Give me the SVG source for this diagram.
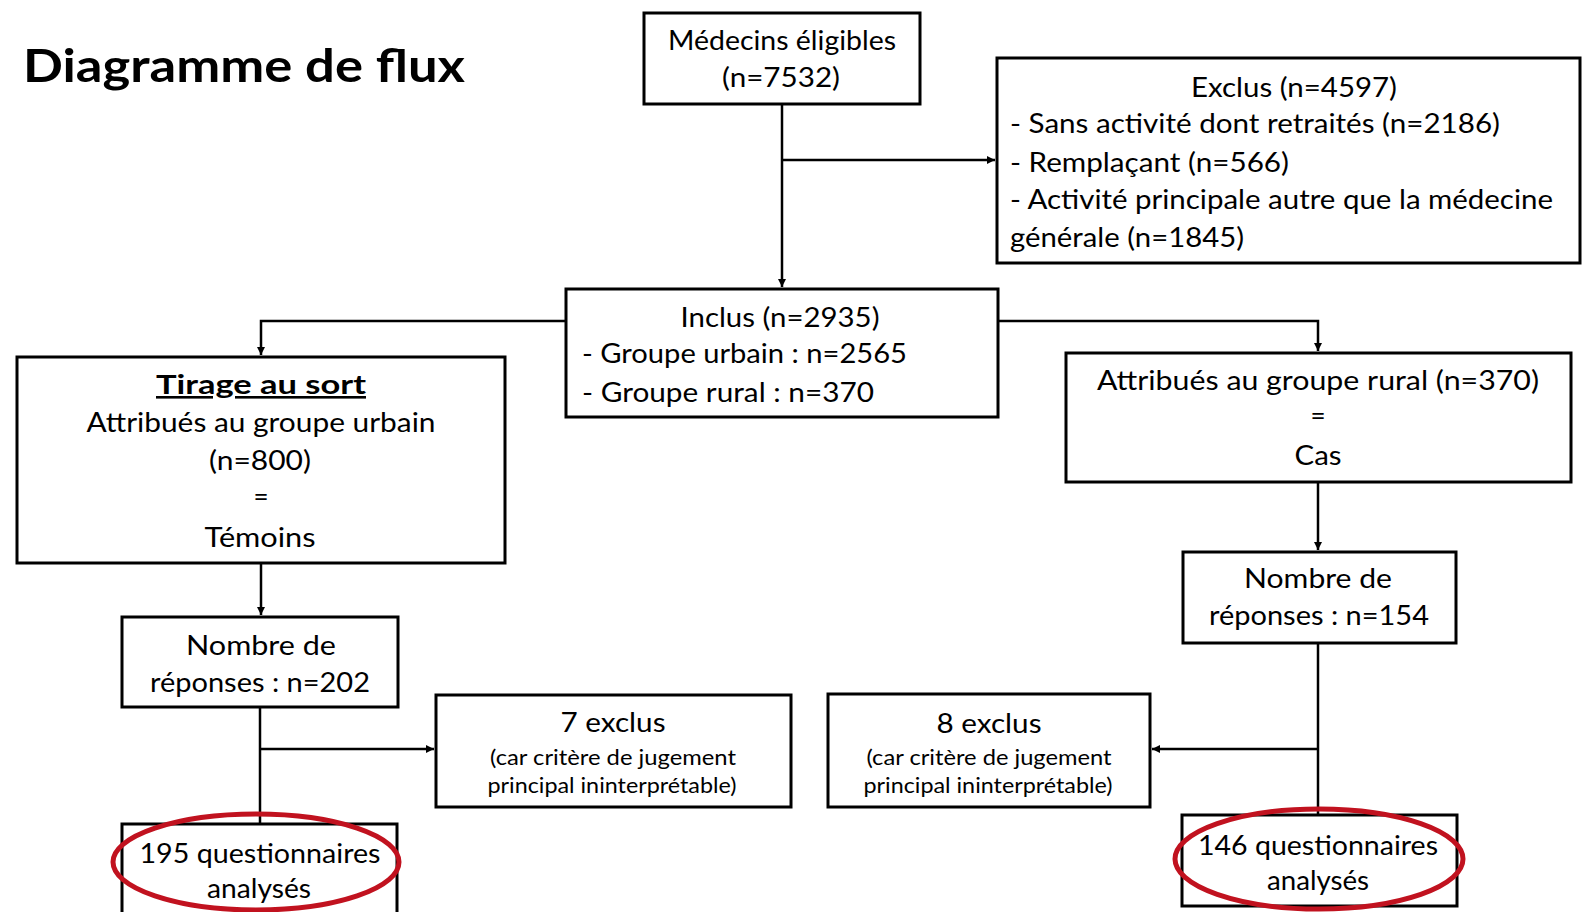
<svg xmlns="http://www.w3.org/2000/svg" width="1582" height="912" viewBox="0 0 1582 912">
<style>
.box{fill:#fff;stroke:#000;stroke-width:3}
.c{fill:none;stroke:#000;stroke-width:2.5}
.t{font-family:Lato,"Open Sans","Liberation Sans",sans-serif;font-size:26px;fill:#000}
.s{font-family:Lato,"Open Sans","Liberation Sans",sans-serif;font-size:21px;fill:#000}
.m{text-anchor:middle}
.ring{fill:none;stroke:#c1121f;stroke-width:5}
</style>
<defs>
<marker id="ah" viewBox="0 0 10 10" refX="10" refY="5" markerWidth="8" markerHeight="8" markerUnits="userSpaceOnUse" orient="auto">
<path d="M0,0 L10,5 L0,10 z" fill="#000"/>
</marker>
</defs>
<rect width="1582" height="912" fill="#fff"/>
<text x="23" y="82" font-family="Lato,'Liberation Sans',sans-serif" font-weight="bold" font-size="46" textLength="442" lengthAdjust="spacingAndGlyphs">Diagramme de flux</text>

<g id="connectors">
<path class="c" d="M782,104 V287" marker-end="url(#ah)"/>
<path class="c" d="M782,160 H995" marker-end="url(#ah)"/>
<path class="c" d="M566,321 H261 V355" marker-end="url(#ah)"/>
<path class="c" d="M998,321 H1318 V351" marker-end="url(#ah)"/>
<path class="c" d="M261,563 V615" marker-end="url(#ah)"/>
<path class="c" d="M1318,482 V550" marker-end="url(#ah)"/>
<path class="c" d="M260,707 V824"/>
<path class="c" d="M260,749 H434" marker-end="url(#ah)"/>
<path class="c" d="M1318,643 V815"/>
<path class="c" d="M1318,749 H1152" marker-end="url(#ah)"/>
</g>

<g id="medecins">
<rect class="box" x="644" y="13" width="276" height="91"/>
<text class="t m" x="782" y="50" textLength="228" lengthAdjust="spacingAndGlyphs">Médecins éligibles</text>
<text class="t m" x="781" y="87" textLength="118" lengthAdjust="spacingAndGlyphs">(n=7532)</text>
</g>

<g id="exclus">
<rect class="box" x="997" y="58" width="583" height="205"/>
<text class="t m" x="1294" y="97" textLength="206" lengthAdjust="spacingAndGlyphs">Exclus (n=4597)</text>
<text class="t" x="1010" y="133" textLength="490" lengthAdjust="spacingAndGlyphs">- Sans activité dont retraités (n=2186)</text>
<text class="t" x="1010" y="172" textLength="279" lengthAdjust="spacingAndGlyphs">- Remplaçant (n=566)</text>
<text class="t" x="1010" y="209" textLength="543" lengthAdjust="spacingAndGlyphs">- Activité principale autre que la médecine</text>
<text class="t" x="1010" y="247" textLength="234" lengthAdjust="spacingAndGlyphs">générale (n=1845)</text>
</g>

<g id="inclus">
<rect class="box" x="566" y="289" width="432" height="128"/>
<text class="t m" x="780" y="327" textLength="199" lengthAdjust="spacingAndGlyphs">Inclus (n=2935)</text>
<text class="t" x="582" y="363" textLength="325" lengthAdjust="spacingAndGlyphs">- Groupe urbain : n=2565</text>
<text class="t" x="582" y="402" textLength="292" lengthAdjust="spacingAndGlyphs">- Groupe rural : n=370</text>
</g>

<g id="tirage">
<rect class="box" x="17" y="357" width="488" height="206"/>
<text class="t m" x="261" y="394" font-weight="bold" text-decoration="underline" textLength="210" lengthAdjust="spacingAndGlyphs">Tirage au sort</text>
<text class="t m" x="261" y="432" textLength="349" lengthAdjust="spacingAndGlyphs">Attribués au groupe urbain</text>
<text class="t m" x="260" y="470" textLength="102" lengthAdjust="spacingAndGlyphs">(n=800)</text>
<text class="t m" x="261" y="506">=</text>
<text class="t m" x="260" y="547" textLength="111" lengthAdjust="spacingAndGlyphs">Témoins</text>
</g>

<g id="rural">
<rect class="box" x="1066" y="353" width="505" height="129"/>
<text class="t m" x="1318" y="390" textLength="442" lengthAdjust="spacingAndGlyphs">Attribués au groupe rural (n=370)</text>
<text class="t m" x="1318" y="425">=</text>
<text class="t m" x="1318" y="465" textLength="47" lengthAdjust="spacingAndGlyphs">Cas</text>
</g>

<g id="reponses154">
<rect class="box" x="1183" y="552" width="273" height="91"/>
<text class="t m" x="1318" y="588" textLength="148" lengthAdjust="spacingAndGlyphs">Nombre de</text>
<text class="t m" x="1319" y="625" textLength="220" lengthAdjust="spacingAndGlyphs">réponses : n=154</text>
</g>

<g id="reponses202">
<rect class="box" x="122" y="617" width="276" height="90"/>
<text class="t m" x="261" y="655" textLength="150" lengthAdjust="spacingAndGlyphs">Nombre de</text>
<text class="t m" x="260" y="692" textLength="220" lengthAdjust="spacingAndGlyphs">réponses : n=202</text>
</g>

<g id="exclus7">
<rect class="box" x="436" y="695" width="355" height="112"/>
<text class="t m" x="613" y="732" textLength="105" lengthAdjust="spacingAndGlyphs">7 exclus</text>
<text class="s m" x="613" y="765" textLength="246" lengthAdjust="spacingAndGlyphs">(car critère de jugement</text>
<text class="s m" x="612" y="793" textLength="249" lengthAdjust="spacingAndGlyphs">principal ininterprétable)</text>
</g>

<g id="exclus8">
<rect class="box" x="828" y="694" width="322" height="113"/>
<text class="t m" x="989" y="733" textLength="105" lengthAdjust="spacingAndGlyphs">8 exclus</text>
<text class="s m" x="989" y="765" textLength="245" lengthAdjust="spacingAndGlyphs">(car critère de jugement</text>
<text class="s m" x="988" y="793" textLength="249" lengthAdjust="spacingAndGlyphs">principal ininterprétable)</text>
</g>

<g id="analyses195">
<rect class="box" x="122" y="824" width="275" height="100"/>
<text class="t m" x="260" y="863" textLength="241" lengthAdjust="spacingAndGlyphs">195 questionnaires</text>
<text class="t m" x="259" y="898" textLength="104" lengthAdjust="spacingAndGlyphs">analysés</text>
<ellipse class="ring" cx="256" cy="862" rx="143" ry="48"/>
</g>

<g id="analyses146">
<rect class="box" x="1182" y="815" width="275" height="91"/>
<text class="t m" x="1318" y="855" textLength="240" lengthAdjust="spacingAndGlyphs">146 questionnaires</text>
<text class="t m" x="1318" y="890" textLength="102" lengthAdjust="spacingAndGlyphs">analysés</text>
<ellipse class="ring" cx="1319" cy="859" rx="144" ry="50"/>
</g>
</svg>
